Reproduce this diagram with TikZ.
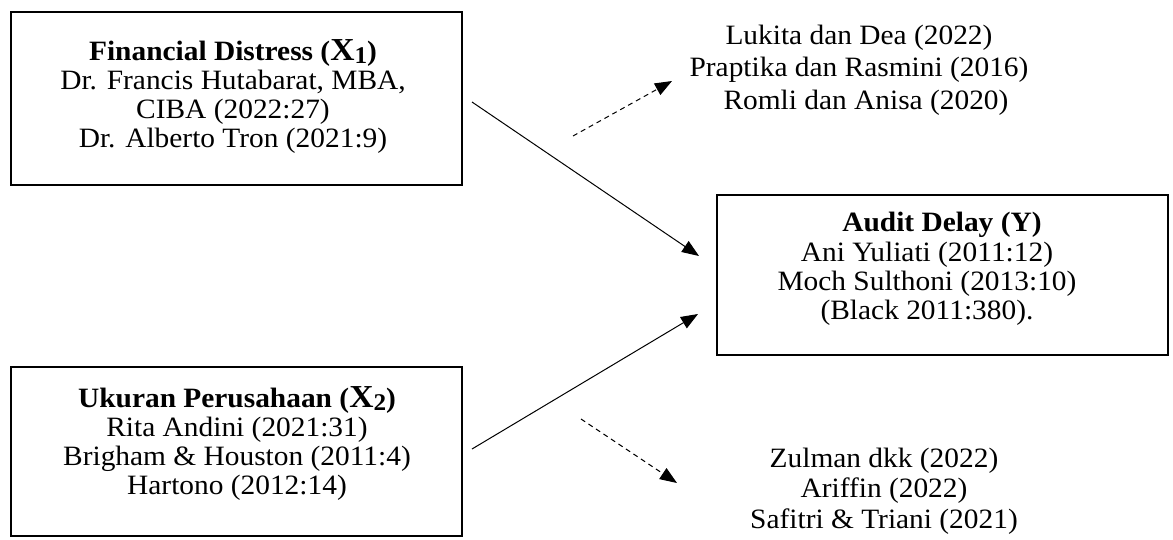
\documentclass[tikz,border=0pt]{standalone}
\usepackage{fontspec}
\setmainfont{Liberation Serif}[FakeStretch=1.05]
\usetikzlibrary{arrows.meta}
\newcommand\bigX{{\fontsize{32}{32}\selectfont X}}
\newcommand\subn[1]{\raisebox{-3pt}{\fontsize{24}{24}\selectfont #1}}
\begin{document}
\begin{tikzpicture}[x=1pt,y=-1pt,
  box/.style={draw, line width=2pt, minimum width=451pt, inner sep=0pt},
  txt/.style={align=center, inner sep=0pt, font=\fontsize{28}{29.3}\selectfont},
  reftxt/.style={align=center, inner sep=0pt, font=\fontsize{28}{#1}\selectfont},
  link/.style={line width=1pt, -{Triangle[length=17pt,width=13pt]}},
  dlink/.style={link, dash pattern=on 5pt off 4pt}]
\useasboundingbox (0,0) rectangle (1173,539);
% boxes
\node[box, minimum height=173pt] (x1box) at (236.5,98.5) {};
\node[box, minimum height=169pt] (x2box) at (236.5,451.5) {};
\node[box, minimum height=160pt] (ybox) at (942.5,275) {};
% box texts
\node[txt] (x1) at (233,96.5) {\textbf{Financial Distress (\bigX\subn{1})}\\
  Dr. Francis Hutabarat, MBA,\\ CIBA (2022:27)\\ Dr. Alberto Tron (2021:9)};
\node[txt] (x2) at (237,443.5) {\textbf{Ukuran Perusahaan (\bigX\subn{2})}\\
  Rita Andini (2021:31)\\ Brigham \& Houston (2011:4)\\ Hartono (2012:14)};
\node[txt] (y) at (927,269) {\hspace*{30pt}\textbf{Audit Delay (Y)}\\
  Ani Yuliati (2011:12)\\ Moch Sulthoni (2013:10)\\ (Black 2011:380).};
% reference lists
\node[reftxt=32.5] (r1) at (859,70) {Lukita dan Dea (2022)\\
  Praptika dan Rasmini (2016)\\ \hspace*{14pt}Romli dan Anisa (2020)};
\node[reftxt=30.5] (r2) at (884,491) {Zulman dkk (2022)\\
  Ariffin (2022)\\ Safitri \& Triani (2021)};
% connector ends
\coordinate (a1s) at (472,102);
\coordinate (a1e) at (699,256);
\coordinate (a2s) at (472,449);
\coordinate (a2e) at (698,314);
\coordinate (d1s) at (573,136);
\coordinate (d1e) at (672,81);
\coordinate (d2s) at (581,419);
\coordinate (d2e) at (677,483);
\draw[link] (a1s) -- (a1e);
\draw[link] (a2s) -- (a2e);
\draw[dlink] (d1s) -- (d1e);
\draw[dlink] (d2s) -- (d2e);
\end{tikzpicture}
\end{document}
